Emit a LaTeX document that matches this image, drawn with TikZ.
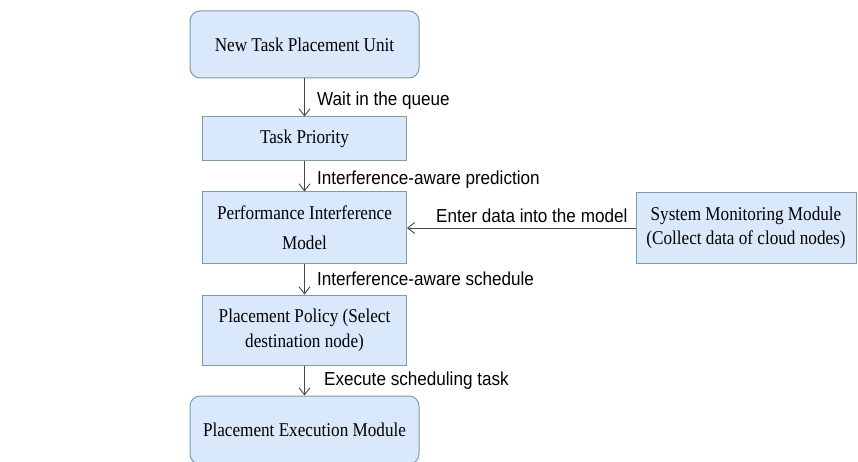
\documentclass[tikz,border=0pt]{standalone}
\usepackage{fontspec}
\setmainfont[FakeStretch=0.88]{Liberation Serif}
\newfontfamily\lblfont[FakeStretch=0.91]{Liberation Sans}
\usetikzlibrary{arrows.meta}
\definecolor{boxfill}{RGB}{218,232,252}
\definecolor{boxline}{RGB}{128,155,168}
\definecolor{arrowc}{RGB}{70,70,70}
\begin{document}
\begin{tikzpicture}[x=1pt,y=-1pt,
  box/.style={draw=boxline, fill=boxfill, line width=1pt, align=center, inner sep=0pt,
    font=\fontsize{19.5}{25}\selectfont},
  rbox/.style={box, rounded corners=10pt},
  conn/.style={draw=arrowc, line width=0.9pt, -{Straight Barb[length=7pt,width=11pt]}},
  lbl/.style={font=\lblfont\fontsize{18.8}{22}\selectfont, anchor=west, inner sep=0pt}]
\clip (0,0) rectangle (858,462);
\node[rbox, minimum width=229pt, minimum height=67pt] (n1) at (304.5,44.5) {New Task Placement Unit};
\node[box, minimum width=204pt, minimum height=44pt] (n2) at (304.5,139) {Task Priority};
\node[box, minimum width=204pt, minimum height=71pt, font=\fontsize{19.5}{30}\selectfont] (n3) at (304.5,227.5) {Performance Interference\\Model};
\node[box, minimum width=220pt, minimum height=70pt, font=\fontsize{19.5}{24}\selectfont] (sys) at (746,228) {System Monitoring Module\\(Collect data of cloud nodes)};
\node[box, minimum width=204pt, minimum height=70pt] (n4) at (304.5,330) {Placement Policy (Select\\destination node)};
\node[rbox, minimum width=229pt, minimum height=68pt] (n5) at (304.5,430) {Placement Execution Module};
\node[lbl] (l1) at (317,101) {Wait in the queue};
\node[lbl] (l2) at (317,180) {Interference-aware prediction};
\node[lbl] (l3) at (317,279) {Interference-aware schedule};
\node[lbl] (l4) at (324,381) {Execute scheduling task};
\node[lbl] (l5) at (436,216) {Enter data into the model};
\draw[conn] (n1) -- (n2);
\draw[conn] (n2) -- (n3);
\draw[conn] (n3) -- (n4);
\draw[conn] (n4) -- (n5);
\draw[conn] (sys.west) -- (n3.east |- sys.west);
\end{tikzpicture}
\end{document}
